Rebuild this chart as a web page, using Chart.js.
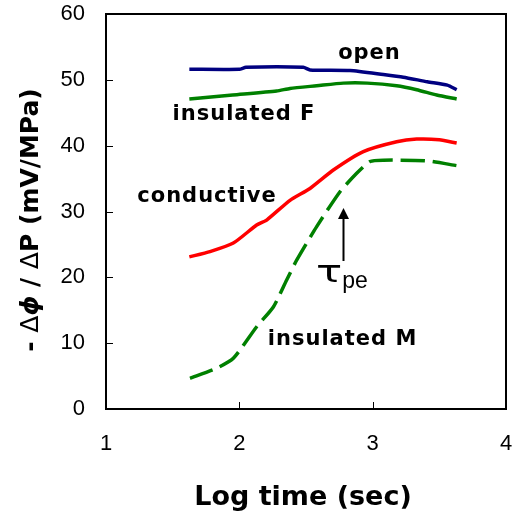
<!DOCTYPE html>
<html>
<head>
<meta charset="utf-8">
<script src="https://cdn.jsdelivr.net/npm/chart.js@4/dist/chart.umd.min.js"></script>
<style>
  html, body { margin: 0; padding: 0; background: #fff; overflow: hidden; }
  #wrap { position: relative; width: 540px; height: 513px; }
</style>
</head>
<body>
<div id="wrap"><canvas id="chart"></canvas></div>
<script>
// --- data (x = log time, y = -dphi/dP) ---
const xOpen = [1.625, 2.0, 2.05, 2.48, 2.53, 2.83, 3.08, 3.23, 3.41, 3.56, 3.63];
const yOpen = [51.6, 51.6, 51.9, 51.9, 51.5, 51.4, 50.8, 50.4, 49.7, 49.2, 48.5];

const xInsF = [1.625, 1.95, 2.28, 2.38, 2.58, 2.78, 2.96, 3.18, 3.33, 3.48, 3.63];
const yInsF = [47.1, 47.7, 48.3, 48.7, 49.1, 49.5, 49.5, 49.1, 48.5, 47.7, 47.1];

const xCond = [1.625, 1.78, 1.955, 2.13, 2.205, 2.38, 2.53, 2.705, 2.93, 3.18, 3.33, 3.5, 3.63];
const yCond = [23.1, 23.9, 25.2, 27.95, 28.7, 31.7, 33.5, 36.3, 39.1, 40.6, 41.0, 40.9, 40.4];

const xInsM = [1.63, 1.83, 1.955, 2.13, 2.255, 2.355, 2.43, 2.58, 2.755, 2.88, 2.98, 3.08, 3.405, 3.63];
const yInsM = [4.66, 6.2, 7.7, 12.5, 15.5, 19.6, 22.6, 27.7, 33.0, 35.8, 37.6, 37.8, 37.7, 36.96];

const xTicks = [1, 2, 3, 4];
const yTicks = [0, 10, 20, 30, 40, 50, 60];

// curve labels, in data coordinates
const curveLabels = [
    { text: 'open',        x: 2.976, y: 54.0 },
    { text: 'insulated F', x: 2.035, y: 44.66 },
    { text: 'conductive',  x: 1.7575, y: 32.2 },
    { text: 'insulated M', x: 2.774, y: 10.48 }
];
const arrowX = 2.775, arrowFrom = 22.48, arrowTo = 30.53;
const tauX = 2.575, tauY = 19.29;

function pts(xs, ys) {
    return xs.map((x, i) => ({ x: x, y: ys[i] }));
}

// --- frame, inside ticks, labels and titles ---
const decorPlugin = {
    id: 'decor',
    afterDraw(chart) {
        const ctx = chart.ctx;
        const a = chart.chartArea;
        const xs = chart.scales.x, ys = chart.scales.y;
        ctx.save();

        // frame
        ctx.strokeStyle = '#000';
        ctx.lineWidth = 2;
        ctx.strokeRect(a.left, a.top, a.right - a.left, a.bottom - a.top);

        // tick marks pointing inwards
        ctx.lineWidth = 1;
        xTicks.forEach(v => {
            const px = Math.round(xs.getPixelForValue(v)) + 0.5;
            ctx.beginPath(); ctx.moveTo(px, a.bottom); ctx.lineTo(px, a.bottom - 7); ctx.stroke();
        });
        yTicks.forEach(v => {
            const py = Math.round(ys.getPixelForValue(v)) + 0.5;
            ctx.beginPath(); ctx.moveTo(a.left, py); ctx.lineTo(a.left + 7, py); ctx.stroke();
        });

        // curve labels
        ctx.fillStyle = '#000';
        ctx.font = 'bold 21px "DejaVu Sans"';
        ctx.letterSpacing = '1px';
        ctx.textAlign = 'center';
        ctx.textBaseline = 'middle';
        curveLabels.forEach(l => {
            ctx.fillText(l.text, xs.getPixelForValue(l.x), ys.getPixelForValue(l.y));
        });
        ctx.letterSpacing = '0px';

        // arrow
        const ax = Math.round(xs.getPixelForValue(arrowX)) + 0.5;
        const ay0 = ys.getPixelForValue(arrowFrom), ay1 = ys.getPixelForValue(arrowTo);
        ctx.lineWidth = 2;
        ctx.beginPath(); ctx.moveTo(ax, ay0); ctx.lineTo(ax, ay1 + 8); ctx.stroke();
        ctx.beginPath();
        ctx.moveTo(ax, ay1); ctx.lineTo(ax - 5.5, ay1 + 11); ctx.lineTo(ax + 5.5, ay1 + 11);
        ctx.closePath(); ctx.fill();

        // tau_pe (tau is wide and short in the original)
        const tx = xs.getPixelForValue(tauX), ty = ys.getPixelForValue(tauY);
        const tauStretch = 1.45;
        ctx.textAlign = 'left';
        ctx.textBaseline = 'alphabetic';
        ctx.font = '30px "DejaVu Sans"';
        const tw = ctx.measureText('τ').width * tauStretch;
        ctx.save();
        ctx.translate(tx, ty);
        ctx.scale(tauStretch, 1);
        ctx.fillText('τ', 0, 0);
        ctx.restore();
        ctx.font = '23px "Liberation Sans"';
        ctx.fillText('pe', tx + tw, ty + 6);

        // x axis title
        ctx.font = 'bold 27px "DejaVu Sans"';
        ctx.textAlign = 'center';
        ctx.fillText('Log time (sec)', 303, 505);

        // y axis title, drawn in pieces so the phi can be italic
        const parts = [
            { t: '- ', f: 'bold 25px "DejaVu Sans"' },
            { t: 'Δ', f: '25px "DejaVu Sans"' },
            { t: 'ϕ', f: 'italic bold 25px "DejaVu Sans"' },
            { t: ' / ', f: 'bold 25px "DejaVu Sans"' },
            { t: 'Δ', f: '25px "DejaVu Sans"' },
            { t: 'P (mV/MPa)', f: 'bold 25px "DejaVu Sans"' }
        ];
        let total = 0;
        parts.forEach(p => { ctx.font = p.f; p.w = ctx.measureText(p.t).width; total += p.w; });
        ctx.translate(38, 220);
        ctx.rotate(-Math.PI / 2);
        ctx.textAlign = 'left';
        let cx = -total / 2;
        parts.forEach(p => { ctx.font = p.f; ctx.fillText(p.t, cx, 0); cx += p.w; });

        ctx.restore();
    }
};

const lineCommon = { pointRadius: 0, borderWidth: 3.5, tension: 0.2, fill: false };

// grid lines hidden, transparent tick marks only used to push labels off the axis
const hiddenGrid = (len) => ({
    display: true, drawOnChartArea: false, drawTicks: true,
    tickLength: len, tickColor: 'rgba(0,0,0,0)', color: 'rgba(0,0,0,0)'
});

new Chart(document.getElementById('chart'), {
    type: 'line',
    data: {
        datasets: [
            Object.assign({ label: 'open', data: pts(xOpen, yOpen), borderColor: '#000080' }, lineCommon),
            Object.assign({ label: 'insulated F', data: pts(xInsF, yInsF), borderColor: '#008000' }, lineCommon),
            Object.assign({ label: 'conductive', data: pts(xCond, yCond), borderColor: '#ff0000' }, lineCommon),
            Object.assign({ label: 'insulated M', data: pts(xInsM, yInsM), borderColor: '#008000', borderDash: [24, 8] }, lineCommon)
        ]
    },
    options: {
        responsive: true,
        maintainAspectRatio: false,
        animation: false,
        layout: { padding: { top: 14, right: 34, left: 0, bottom: 0 } },
        plugins: { legend: { display: false }, tooltip: { enabled: false } },
        scales: {
            x: {
                type: 'linear', min: 1, max: 4,
                afterBuildTicks: s => { s.ticks = xTicks.map(v => ({ value: v })); },
                afterFit: s => { s.height = 104; },
                grid: hiddenGrid(22),
                border: { display: false },
                ticks: { padding: 0, color: '#000', font: { family: 'Liberation Sans', size: 22 } }
            },
            y: {
                type: 'linear', min: 0, max: 60,
                afterBuildTicks: s => { s.ticks = yTicks.map(v => ({ value: v })); },
                afterFit: s => { s.width = 106; },
                grid: hiddenGrid(21),
                border: { display: false },
                ticks: { padding: 0, color: '#000', font: { family: 'Liberation Sans', size: 22 } }
            }
        }
    },
    plugins: [decorPlugin]
});
</script>
</body>
</html>
